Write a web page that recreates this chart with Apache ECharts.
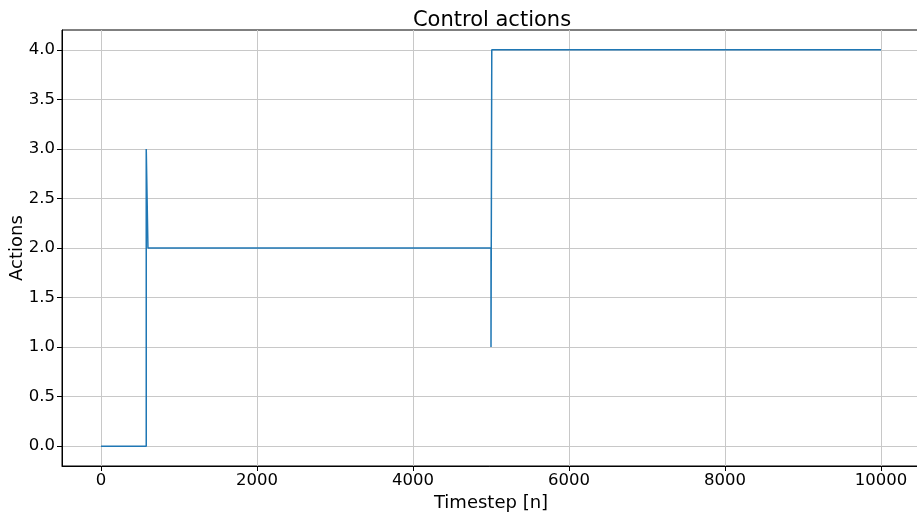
<!DOCTYPE html>
<html>
<head>
<meta charset="utf-8">
<script src="https://cdn.jsdelivr.net/npm/echarts@6/dist/echarts.min.js"></script>
<style>
  html, body { margin: 0; padding: 0; background: #fff; }
  #chart { width: 917px; height: 513px; }
</style>
</head>
<body>
<div id="chart"></div>
<script>
// Control action trace: each switch is a vertical jump at the same timestep
const timesteps = [0, 580, 580, 602, 602, 5000, 5000, 5010, 5010, 10000];
const actions = [0, 0, 3, 3, 2, 2, 1, 1, 4, 4];

// Tick positions
const xTicks = [0, 2000, 4000, 6000, 8000, 10000];
const yTicks = [0, 0.5, 1, 1.5, 2, 2.5, 3, 3.5, 4];

const font = 'DejaVu Sans';
const chart = echarts.init(document.getElementById('chart'), null, { renderer: 'canvas' });

chart.setOption({
  animation: false,
  backgroundColor: '#ffffff',
  title: {
    text: 'Control actions',
    left: 487,
    top: 5,
    textAlign: 'center',
    textStyle: { fontFamily: font, fontSize: 21, fontWeight: 'normal', color: '#000' }
  },
  grid: {
    left: 62, top: 30, width: 858, height: 436,
    outerBoundsMode: 'none',
    containLabel: false,
    show: true, borderColor: '#000', borderWidth: 1, backgroundColor: 'transparent'
  },
  xAxis: {
    type: 'value',
    min: -500, max: 10500,
    name: 'Timestep [n]',
    nameLocation: 'middle',
    nameGap: 22,
    nameTextStyle: { fontFamily: font, fontSize: 18, color: '#000' },
    axisLine: { show: true, onZero: false, lineStyle: { color: '#000', width: 1 } },
    axisTick: { show: true, length: 5, inside: false, customValues: xTicks, lineStyle: { color: '#000', width: 1 } },
    axisLabel: {
      customValues: xTicks, margin: 6, fontFamily: font, fontSize: 16.5, color: '#000',
      formatter: v => String(v)
    },
    splitLine: { show: true, lineStyle: { color: '#c8c8c8', width: 1 } }
  },
  yAxis: {
    type: 'value',
    min: -0.2, max: 4.2,
    name: 'Actions',
    nameLocation: 'middle',
    nameMoveOverlap: false,
    nameGap: 36,
    nameTextStyle: { fontFamily: font, fontSize: 18, color: '#000' },
    axisLine: { show: true, onZero: false, lineStyle: { color: '#000', width: 1 } },
    axisTick: { show: true, length: 5, inside: false, customValues: yTicks, lineStyle: { color: '#000', width: 1 } },
    axisLabel: {
      customValues: yTicks, margin: 7, fontFamily: font, fontSize: 16.5, color: '#000',
      formatter: v => v.toFixed(1)
    },
    splitLine: { show: true, lineStyle: { color: '#c8c8c8', width: 1 } }
  },
  series: [{
    type: 'line',
    data: timesteps.map((t, i) => [t, actions[i]]),
    showSymbol: false,
    sampling: null,
    lineStyle: { color: '#1f77b4', width: 1.5 },
    itemStyle: { color: '#1f77b4' }
  }]
});
</script>
</body>
</html>
